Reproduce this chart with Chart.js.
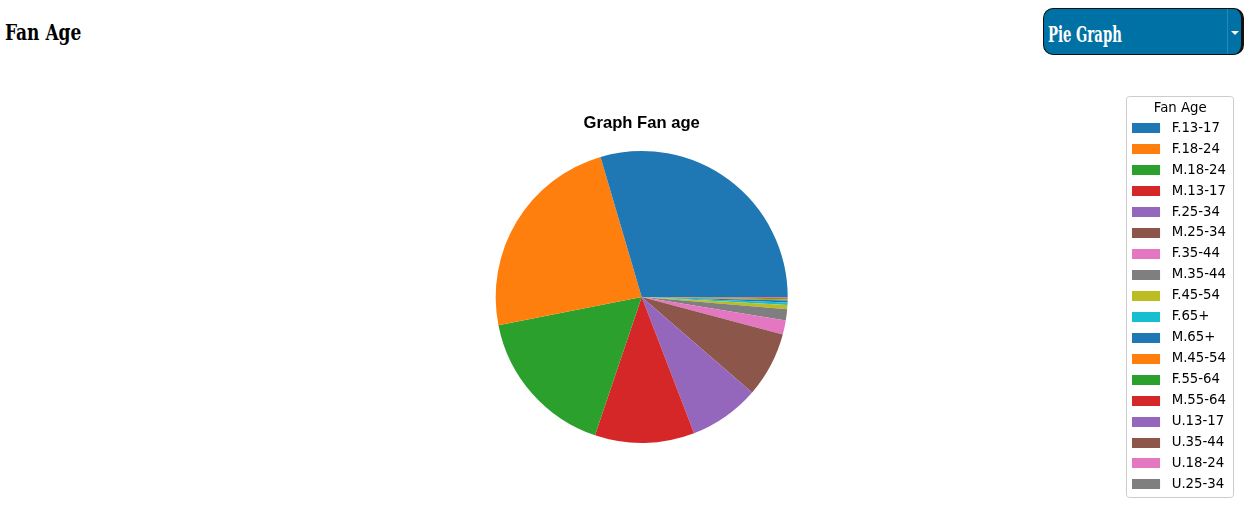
<!DOCTYPE html>
<html>
<head>
<meta charset="utf-8">
<script src="https://cdn.jsdelivr.net/npm/chart.js@4"></script>
<style>
  html, body { margin: 0; padding: 0; background: #fff; }
  body { width: 1252px; height: 510px; position: relative; overflow: hidden; }
  .slab { font-family: "DejaVu Serif Condensed", "DejaVu Serif"; font-stretch: condensed; font-weight: bold; }
  #head { position: absolute; left: 5px; top: 19px; font-size: 22px; color: #000; transform-origin: 0 0; transform: scaleX(0.86); }
  #pick { position: absolute; left: 1043px; top: 8px; width: 197px; height: 45px; background: #0071a4;
          border: 1px solid #111; border-right-width: 3px; border-radius: 10px; box-sizing: content-box; }
  #pick span { position: absolute; left: 4px; top: 11px; font-size: 23px; color: #fff; transform-origin: 0 0; transform: scaleX(0.64); }
  #pick i { position: absolute; right: 0; top: 0; width: 13px; height: 45px; border-left: 1px solid #2a86b3; }
  #pick i:after { content: ""; position: absolute; left: 3px; top: 22px; border-left: 4px solid transparent;
                  border-right: 4px solid transparent; border-top: 4px solid #fff; }
  #wrap { position: absolute; left: 0; top: 92px; width: 1252px; height: 410px; }
</style>
</head>
<body>
<div id="head" class="slab">Fan Age</div>
<div id="pick"><span class="slab">Pie Graph</span><i></i></div>
<div id="wrap"><canvas id="fanChart"></canvas></div>
<script>
// 凡例に出す年齢層（matplotlib と同じ順）
const ageGroups = ['F.13-17', 'F.18-24', 'M.18-24', 'M.13-17', 'F.25-34', 'M.25-34',
    'F.35-44', 'M.35-44', 'F.45-54', 'F.65+', 'M.65+', 'M.45-54',
    'F.55-64', 'M.55-64', 'U.13-17', 'U.35-44', 'U.18-24', 'U.25-34'];

// 割合（%）
const fanShare = [29.5, 23.5, 16.7, 11.0, 7.8, 7.2,
    1.56, 1.25, 0.44, 0.28, 0.22, 0.14,
    0.11, 0.05, 0.03, 0.02, 0.02, 0.01];

// tab10 の色
const tab10 = ['#1f77b4', '#ff7f0e', '#2ca02c', '#d62728', '#9467bd',
    '#8c564b', '#e377c2', '#7f7f7f', '#bcbd22', '#17becf'];
const sliceColors = ageGroups.map((g, i) => tab10[i % tab10.length]);

// matplotlib は反時計回りなので、逆順にして 3時の位置から時計回りに描く
const revLabels = ageGroups.slice().reverse();
const revValues = fanShare.slice().reverse();
const revColors = sliceColors.slice().reverse();

// 凡例の色見本（28x10 の四角＋右に余白）
function swatch(color) {
    const c = document.createElement('canvas');
    c.width = 33;
    c.height = 10;
    const g = c.getContext('2d');
    g.fillStyle = color;
    g.fillRect(0, 0, 28, 10);
    return c;
}

const baseLabels = Chart.overrides.doughnut.plugins.legend.labels.generateLabels;

// 凡例の枠線
const legendFrame = {
    id: 'legendFrame',
    afterDraw(chart) {
        const lg = chart.legend;
        const boxes = lg.legendHitBoxes;
        if (!boxes || !boxes.length) return;
        const first = boxes[0];
        const last = boxes[boxes.length - 1];
        const x = first.left - 6;
        const y = lg.top + 4;
        const h = last.top + last.height + 6 - y;
        const ctx = chart.ctx;
        ctx.save();
        ctx.strokeStyle = '#cccccc';
        ctx.lineWidth = 1;
        ctx.beginPath();
        ctx.roundRect(Math.round(x) + 0.5, Math.round(y) + 0.5, 107, Math.round(h), 3);
        ctx.stroke();
        ctx.restore();
    }
};

const config = {
    type: 'pie',
    data: {
        labels: revLabels,
        datasets: [{
            data: revValues,
            backgroundColor: revColors,
            borderWidth: 0,
            radius: 146
        }]
    },
    options: {
        responsive: true,
        maintainAspectRatio: false,
        animation: false,
        rotation: 90,
        layout: { padding: { left: 159, right: 16, top: 0, bottom: 0 } },
        plugins: {
            tooltip: { enabled: false },
            title: {
                display: true,
                text: 'Graph Fan age',
                fullSize: false,
                color: '#000',
                font: { family: 'Liberation Sans', size: 16.6, weight: 'bold' },
                padding: { top: 21, bottom: -40.9 }
            },
            legend: {
                position: 'right',
                align: 'start',
                reverse: true,
                title: {
                    display: true,
                    text: 'Fan Age',
                    color: '#000',
                    font: { family: 'DejaVu Sans', size: 13.3 },
                    padding: { top: 10, bottom: -4 }
                },
                labels: {
                    color: '#000',
                    font: { family: 'DejaVu Sans', size: 13.3 },
                    usePointStyle: true,
                    pointStyleWidth: 33,
                    boxHeight: 10,
                    padding: 7.65,
                    generateLabels: chart => baseLabels(chart).map(item =>
                        Object.assign(item, { pointStyle: swatch(item.fillStyle), lineWidth: 0 }))
                }
            }
        }
    },
    plugins: [legendFrame]
};

const fanChart = new Chart(document.getElementById('fanChart'), config);
</script>
</body>
</html>
